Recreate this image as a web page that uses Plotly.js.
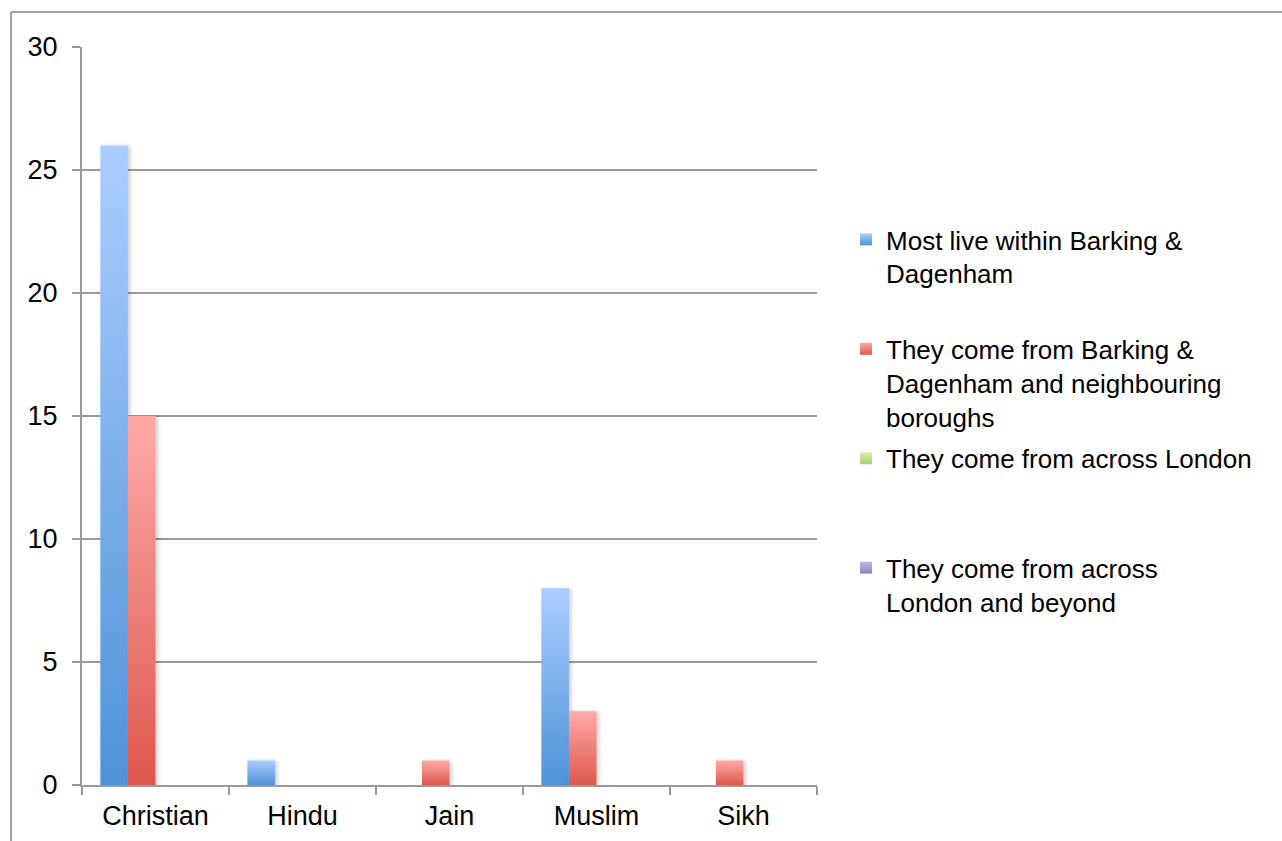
<!DOCTYPE html>
<html>
<head>
<meta charset="utf-8">
<script src="https://cdn.plot.ly/plotly-3.0.1.min.js"></script>
<style>
  html, body { margin: 0; padding: 0; background: #fff; }
  #chart { width: 1282px; height: 841px; }
</style>
</head>
<body>
<div id="chart"></div>
<script>
// ---- data ----
const categories = ["Christian", "Hindu", "Jain", "Muslim", "Sikh"];
const seriesNames = [
  "Most live within Barking &<br>Dagenham",
  "They come from Barking &<br>Dagenham and neighbouring<br>boroughs",
  "They come from across London",
  "They come from across<br>London and beyond"
];
const withinBD      = [26, 1, 0, 8, 0];
const bdNeighbours  = [15, 0, 1, 3, 1];
const acrossLondon  = [0, 0, 0, 0, 0];
const londonBeyond  = [0, 0, 0, 0, 0];
const yTicks = [0, 5, 10, 15, 20, 25, 30];

// ---- styles ----
const gradients = [
  { id: "gBlue",   top: "#abcdff", bottom: "#4e92d8", mid: "#7db0ee" },
  { id: "gRed",    top: "#ffaaa8", bottom: "#dc584c", mid: "#ef837c" },
  { id: "gGreen",  top: "#dcf2b0", bottom: "#a6cf6c", mid: "#c2e190" },
  { id: "gPurple", top: "#c9bbe8", bottom: "#8e7cc0", mid: "#ab9bd4" }
];
const seriesValues = [withinBD, bdNeighbours, acrossLondon, londonBeyond];
const FONT = '"Liberation Sans", Arial, Helvetica, sans-serif';
const GRID = "#9a9a9a";

// pad every legend entry to the same number of lines so entries are evenly spaced
function padLines(s, n) {
  const count = s.split("<br>").length;
  let out = s;
  for (let k = count; k < n; k++) out += "<br>&nbsp;";
  return out;
}

const traces = seriesValues.map((vals, i) => ({
  type: "bar",
  x: categories,
  y: vals,
  name: padLines(seriesNames[i], 3),
  legendgroup: "g" + i,
  marker: { color: gradients[i].mid, line: { width: 0 } },
  hoverinfo: "x+y"
}));

const layout = {
  width: 1282,
  height: 841,
  margin: { l: 82, r: 465, t: 47, b: 56, pad: 0 },
  paper_bgcolor: "#ffffff",
  plot_bgcolor: "#ffffff",
  font: { family: FONT, size: 27, color: "#000000" },
  barmode: "group",
  bargap: 0.25,
  bargroupgap: 0,
  showlegend: true,
  legend: {
    x: 1.0395, xanchor: "left",
    y: 0.771, yanchor: "top",
    valign: "top",
    traceorder: "grouped",
    tracegroupgap: 5,
    font: { family: FONT, size: 26, color: "#000" },
    bgcolor: "rgba(0,0,0,0)"
  },
  xaxis: {
    type: "category",
    showline: true, linecolor: GRID, linewidth: 2,
    ticks: "outside", tickson: "boundaries", ticklen: 8, tickwidth: 2, tickcolor: GRID,
    showgrid: false, zeroline: false,
    ticklabelstandoff: 6,
    tickfont: { family: FONT, size: 27, color: "#000" },
    fixedrange: true
  },
  yaxis: {
    range: [0, 30],
    tickvals: yTicks,
    ticktext: yTicks.map(String),
    showline: true, linecolor: GRID, linewidth: 2,
    ticks: "outside", ticklen: 8, tickwidth: 2, tickcolor: GRID,
    showgrid: true, gridcolor: GRID, gridwidth: 2,
    zeroline: false,
    ticklabelstandoff: 9,
    tickfont: { family: FONT, size: 27, color: "#000" },
    fixedrange: true
  },
  shapes: [
    // outer frame (top and left edges of the original chart box)
    { type: "line", xref: "paper", yref: "paper",
      x0: (11 - 82) / 735, x1: (1282 - 82) / 735,
      y0: (841 - 56 - 12) / 738 , y1: (841 - 56 - 12) / 738,
      line: { color: "#a0a0a0", width: 2 } },
    { type: "line", xref: "paper", yref: "paper",
      x0: (11 - 82) / 735, x1: (11 - 82) / 735,
      y0: (841 - 56 - 12) / 738, y1: -56 / 738 - 0.01,
      line: { color: "#a0a0a0", width: 2 } }
  ]
};

function applyGradients(gd) {
  const svg = gd.querySelector(".main-svg");
  if (!svg) return;
  const NS = "http://www.w3.org/2000/svg";
  let defs = svg.querySelector("defs");
  if (!defs) { defs = document.createElementNS(NS, "defs"); svg.insertBefore(defs, svg.firstChild); }
  gradients.forEach(g => {
    if (defs.querySelector("#" + g.id)) return;
    const lg = document.createElementNS(NS, "linearGradient");
    lg.setAttribute("id", g.id);
    lg.setAttribute("x1", "0"); lg.setAttribute("y1", "0");
    lg.setAttribute("x2", "0"); lg.setAttribute("y2", "1");
    const s1 = document.createElementNS(NS, "stop");
    s1.setAttribute("offset", "0"); s1.setAttribute("stop-color", g.top);
    const s2 = document.createElementNS(NS, "stop");
    s2.setAttribute("offset", "1"); s2.setAttribute("stop-color", g.bottom);
    lg.appendChild(s1); lg.appendChild(s2);
    defs.appendChild(lg);
  });
  if (!defs.querySelector("#barShadow")) {
    const f = document.createElementNS(NS, "filter");
    f.setAttribute("id", "barShadow");
    f.setAttribute("x", "-30%"); f.setAttribute("y", "-10%");
    f.setAttribute("width", "160%"); f.setAttribute("height", "130%");
    const ds = document.createElementNS(NS, "feDropShadow");
    ds.setAttribute("dx", "2"); ds.setAttribute("dy", "1");
    ds.setAttribute("stdDeviation", "2");
    ds.setAttribute("flood-color", "#000"); ds.setAttribute("flood-opacity", "0.22");
    f.appendChild(ds);
    defs.appendChild(f);
  }
  const barTraces = gd.querySelectorAll(".barlayer .trace");
  barTraces.forEach((t, i) => {
    const g = gradients[i % gradients.length];
    t.querySelectorAll("path").forEach(p => {
      p.style.fill = "url(#" + g.id + ")";
      p.style.filter = "url(#barShadow)";
    });
  });
  const legTraces = gd.querySelectorAll(".legend .traces");
  legTraces.forEach((t, i) => {
    const g = gradients[i % gradients.length];
    t.querySelectorAll(".legendpoints path").forEach(p => { p.style.fill = "url(#" + g.id + ")"; });
  });
}

const gd = document.getElementById("chart");
Plotly.newPlot(gd, traces, layout, { displayModeBar: false, staticPlot: true }).then(() => applyGradients(gd));
</script>
</body>
</html>
